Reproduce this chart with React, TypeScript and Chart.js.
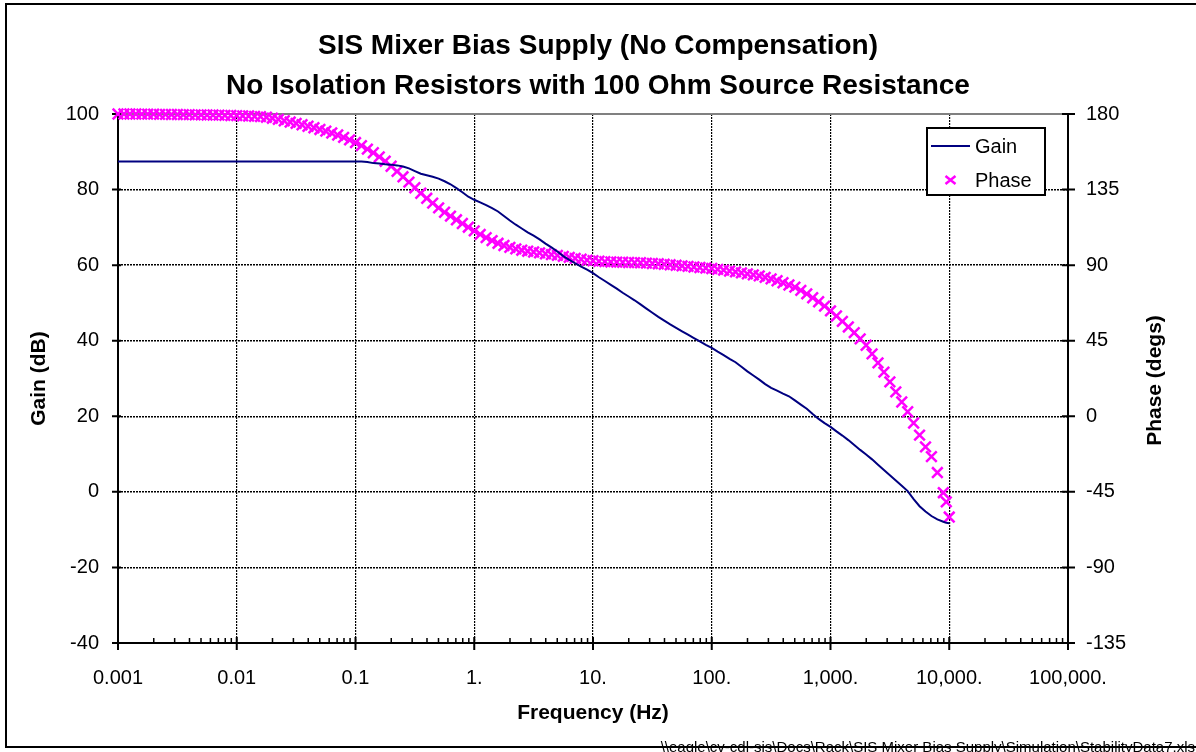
import React, { useEffect, useRef } from "react";
import { Chart, registerables } from "chart.js";

Chart.register(...registerables);

const FONT = "'Liberation Sans', Arial, Helvetica, sans-serif";

const titleLines = [
  "SIS Mixer Bias Supply (No Compensation)",
  "No Isolation Resistors with 100 Ohm Source Resistance",
];
const xTitle = "Frequency (Hz)";
const gainTitle = "Gain (dB)";
const phaseTitle = "Phase (degs)";
const filePath =
  "\\\\eagle\\cv-cdl-sis\\Docs\\Rack\\SIS Mixer Bias Supply\\Simulation\\StabilityData7.xls";

const xTickValues = [0.001, 0.01, 0.1, 1, 10, 100, 1000, 10000, 100000];
const xTickLabels = ["0.001", "0.01", "0.1", "1.", "10.", "100.", "1,000.", "10,000.", "100,000."];
const minorMantissas = [2, 3, 4, 5, 6, 7, 8, 9];
const gainTicks = [-40, -20, 0, 20, 40, 60, 80, 100];
const phaseTicks = [-135, -90, -45, 0, 45, 90, 135, 180];

// sampling grid of the simulation (20 points per decade)
const mantissas = [1, 1.122, 1.259, 1.413, 1.585, 1.778, 1.995, 2.239, 2.512, 2.818,
  3.162, 3.548, 3.981, 4.467, 5.012, 5.623, 6.31, 7.079, 7.943, 8.913];
const decades = [-3, -2, -1, 0, 1, 2, 3];
const tailFreq = [9440, 10000];

// Gain (dB), one row per decade
const gainValues = [
  87.4, 87.4, 87.4, 87.4, 87.4, 87.4, 87.4, 87.4, 87.4, 87.4, 87.4, 87.4, 87.4, 87.4, 87.4, 87.4, 87.4, 87.4, 87.4, 87.4,
  87.4, 87.4, 87.4, 87.4, 87.4, 87.4, 87.4, 87.4, 87.4, 87.4, 87.4, 87.4, 87.4, 87.4, 87.4, 87.4, 87.4, 87.4, 87.4, 87.4,
  87.4, 87.4, 87.3, 87.0, 86.9, 86.7, 86.6, 86.4, 86.1, 85.6, 84.9, 84.2, 83.8, 83.4, 82.9, 82.2, 81.4, 80.4, 79.3, 78.1,
  77.3, 76.6, 75.9, 75.1, 74.2, 73.0, 71.8, 70.7, 69.7, 68.7, 67.8, 66.8, 65.7, 64.7, 63.6, 62.4, 61.4, 60.5, 59.6, 58.8,
  57.9, 56.8, 55.8, 54.8, 53.8, 52.7, 51.7, 50.7, 49.6, 48.5, 47.4, 46.3, 45.3, 44.3, 43.4, 42.5, 41.6, 40.7, 39.8, 38.9,
  38.1, 37.1, 36.2, 35.2, 34.3, 33.1, 31.9, 30.8, 29.7, 28.5, 27.5, 26.8, 26.0, 25.3, 24.2, 23.1, 22.0, 20.6, 19.3, 18.2,
  17.2, 16.0, 14.9, 13.7, 12.4, 11.1, 9.9, 8.6, 7.2, 5.8, 4.4, 3.0, 1.6, 0.2, -1.9, -3.8, -5.2, -6.4, -7.3, -7.9,
];
const tailGain = [-8.2, -8.3];

// Phase (degs), one row per decade
const phaseValues = [
  180, 180, 180, 180, 179.9, 179.9, 179.9, 179.8, 179.8, 179.7, 179.7, 179.6, 179.6, 179.5, 179.5, 179.4, 179.4, 179.3, 179.2, 179.1,
  179.0, 178.9, 178.8, 178.6, 178.4, 178.1, 177.5, 176.8, 176.0, 175.2, 174.4, 173.6, 172.7, 171.8, 170.8, 169.8, 168.7, 167.5, 166.1, 164.6,
  163.0, 161.2, 159.1, 156.9, 154.5, 151.9, 148.9, 145.8, 142.6, 139.4, 136.1, 132.8, 129.8, 126.9, 124.1, 121.5, 119.2, 117.0, 114.8, 112.6,
  110.4, 108.3, 106.4, 104.6, 103.0, 101.7, 100.6, 99.7, 98.9, 98.3, 97.8, 97.3, 96.8, 96.3, 95.8, 95.2, 94.6, 94.0, 93.5, 93.0,
  92.6, 92.3, 92.1, 91.9, 91.8, 91.7, 91.6, 91.5, 91.4, 91.2, 91.0, 90.8, 90.5, 90.2, 89.9, 89.6, 89.3, 88.9, 88.6, 88.3,
  88.0, 87.5, 87.0, 86.5, 86.0, 85.4, 84.8, 84.2, 83.6, 82.7, 81.8, 80.7, 79.5, 78.2, 76.9, 75.0, 72.9, 70.6, 68.2, 65.6,
  62.8, 59.7, 56.5, 53.2, 49.8, 46.1, 42.3, 37.2, 31.8, 26.3, 20.5, 14.5, 8.5, 2.7, -4.0, -11.2, -18.2, -24.0, -33.5, -45.5,
];
const tailPhase = [-51, -60];

const GAIN_COLOR = "#000080";
const PHASE_COLOR = "#FF00FF";

const decorPlugin = {
  id: "decor",
  beforeDatasetsDraw(chart: any) {
    const { ctx, chartArea: a, scales } = chart;
    const xs = scales.x, ys = scales.y, y1s = scales.y1;
    ctx.save();
    // top border (gray)
    ctx.strokeStyle = "#808080";
    ctx.lineWidth = 2;
    ctx.beginPath();
    ctx.moveTo(a.left, a.top);
    ctx.lineTo(a.right, a.top);
    ctx.stroke();
    // axes
    ctx.strokeStyle = "#000";
    ctx.lineWidth = 2;
    ctx.beginPath();
    ctx.moveTo(a.left, a.top - 1);
    ctx.lineTo(a.left, a.bottom + 1);
    ctx.moveTo(a.right, a.top - 1);
    ctx.lineTo(a.right, a.bottom + 1);
    ctx.moveTo(a.left - 1, a.bottom);
    ctx.lineTo(a.right + 1, a.bottom);
    ctx.stroke();
    // major ticks
    ctx.beginPath();
    gainTicks.forEach((v) => {
      const p = ys.getPixelForValue(v);
      ctx.moveTo(a.left - 6, p);
      ctx.lineTo(a.left + 3, p);
    });
    phaseTicks.forEach((v) => {
      const p = y1s.getPixelForValue(v);
      ctx.moveTo(a.right - 6, p);
      ctx.lineTo(a.right + 7, p);
    });
    xTickValues.forEach((v) => {
      const p = xs.getPixelForValue(v);
      ctx.moveTo(p, a.bottom - 6);
      ctx.lineTo(p, a.bottom + 7);
    });
    ctx.stroke();
    // minor ticks (inside)
    ctx.lineWidth = 1.5;
    ctx.beginPath();
    xTickValues.slice(0, -1).forEach((v) => {
      minorMantissas.forEach((m) => {
        const p = xs.getPixelForValue(v * m);
        ctx.moveTo(p, a.bottom - 5);
        ctx.lineTo(p, a.bottom);
      });
    });
    ctx.stroke();
    ctx.restore();
  },
  afterDraw(chart: any) {
    const { ctx, chartArea: a } = chart;
    ctx.save();
    // right axis title (reads bottom to top)
    ctx.fillStyle = "#000";
    ctx.font = `bold 21px ${FONT}`;
    ctx.textAlign = "center";
    ctx.textBaseline = "middle";
    ctx.translate(1155, (a.top + a.bottom) / 2 + 2);
    ctx.rotate(-Math.PI / 2);
    ctx.fillText(phaseTitle, 0, 0);
    ctx.restore();

    // legend
    ctx.save();
    const lx = 927, ly = 128, lw = 118, lh = 67;
    ctx.fillStyle = "#fff";
    ctx.fillRect(lx, ly, lw, lh);
    ctx.strokeStyle = "#000";
    ctx.lineWidth = 2;
    ctx.strokeRect(lx, ly, lw, lh);
    ctx.strokeStyle = GAIN_COLOR;
    ctx.lineWidth = 2;
    ctx.beginPath();
    ctx.moveTo(931, 146);
    ctx.lineTo(970, 146);
    ctx.stroke();
    ctx.strokeStyle = PHASE_COLOR;
    ctx.lineWidth = 2.5;
    ctx.beginPath();
    ctx.moveTo(945.5, 176);
    ctx.lineTo(955.5, 184);
    ctx.moveTo(955.5, 176);
    ctx.lineTo(945.5, 184);
    ctx.stroke();
    ctx.fillStyle = "#000";
    ctx.font = `20px ${FONT}`;
    ctx.textAlign = "left";
    ctx.textBaseline = "middle";
    ctx.fillText("Gain", 975, 147);
    ctx.fillText("Phase", 975, 181);
    ctx.restore();

    // outer frame
    ctx.save();
    ctx.strokeStyle = "#000";
    ctx.lineWidth = 2;
    ctx.strokeRect(6, 4, 1300, 743);
    // file path
    ctx.fillStyle = "#000";
    ctx.font = `15px ${FONT}`;
    ctx.textAlign = "right";
    ctx.textBaseline = "alphabetic";
    ctx.fillText(filePath, 1195, 752);
    ctx.restore();
  },
};

export default function App() {
  const canvasRef = useRef<HTMLCanvasElement | null>(null);

  useEffect(() => {
    if (!canvasRef.current) return;
    const freq = decades
      .flatMap((d) => mantissas.map((m) => +(m * Math.pow(10, d)).toPrecision(4)))
      .concat(tailFreq);
    const gainAll = gainValues.concat(tailGain);
    const phaseAll = phaseValues.concat(tailPhase);

    const chart = new Chart(canvasRef.current, {
      type: "scatter",
      data: {
        datasets: [
          {
            label: "Gain",
            data: freq.map((f, i) => ({ x: f, y: gainAll[i] })),
            showLine: true,
            borderColor: GAIN_COLOR,
            backgroundColor: GAIN_COLOR,
            borderWidth: 2,
            pointRadius: 0,
            yAxisID: "y",
          },
          {
            label: "Phase",
            data: freq.map((f, i) => ({ x: f, y: phaseAll[i] })),
            showLine: false,
            pointStyle: "crossRot",
            pointRadius: 7.5,
            pointBorderWidth: 2.5,
            borderColor: PHASE_COLOR,
            pointBorderColor: PHASE_COLOR,
            backgroundColor: PHASE_COLOR,
            yAxisID: "y1",
            clip: false,
          },
        ],
      } as any,
      options: {
        animation: false,
        responsive: false,
        maintainAspectRatio: false,
        events: [],
        layout: { padding: 0 },
        plugins: {
          legend: { display: false },
          tooltip: { enabled: false },
          title: {
            display: true,
            text: titleLines,
            color: "#000",
            font: { family: FONT, size: 28, weight: "bold", lineHeight: 40 / 28 },
            padding: { top: 26, bottom: 8 },
          },
        },
        scales: {
          x: {
            type: "logarithmic",
            min: 0.001,
            max: 100000,
            afterBuildTicks: (s: any) => {
              s.ticks = xTickValues.map((v) => ({ value: v }));
            },
            afterFit: (s: any) => {
              s.height = 109;
            },
            ticks: {
              autoSkip: false,
              maxRotation: 0,
              padding: 23,
              color: "#000",
              font: { family: FONT, size: 20 },
              callback: (v: any) => {
                const i = xTickValues.indexOf(Number(v));
                return i >= 0 ? xTickLabels[i] : "";
              },
            },
            grid: {
              drawTicks: false,
              tickLength: 0,
              lineWidth: 1.2,
              color: (c: any) =>
                c.tick && (c.tick.value === 0.001 || c.tick.value === 100000) ? "rgba(0,0,0,0)" : "#000",
            },
            border: { display: false, dash: [2, 1] },
            title: {
              display: true,
              text: xTitle,
              color: "#000",
              font: { family: FONT, size: 21, weight: "bold" },
              padding: { top: 0, bottom: 26 },
            },
          },
          y: {
            type: "linear",
            position: "left",
            min: -40,
            max: 100,
            afterFit: (s: any) => {
              s.width = 118;
            },
            ticks: {
              stepSize: 20,
              padding: 19,
              color: "#000",
              font: { family: FONT, size: 20 },
            },
            grid: {
              drawTicks: false,
              tickLength: 0,
              lineWidth: 1.5,
              color: (c: any) =>
                c.tick && (c.tick.value === 100 || c.tick.value === -40) ? "rgba(0,0,0,0)" : "#000",
            },
            border: { display: false, dash: [2, 1] },
            title: {
              display: true,
              text: gainTitle,
              color: "#000",
              font: { family: FONT, size: 21, weight: "bold" },
              padding: { top: 27, bottom: 0 },
            },
          },
          y1: {
            type: "linear",
            position: "right",
            min: -135,
            max: 180,
            afterFit: (s: any) => {
              s.width = 128;
            },
            ticks: {
              stepSize: 45,
              padding: 18,
              color: "#000",
              font: { family: FONT, size: 20 },
            },
            grid: { drawOnChartArea: false, drawTicks: false, tickLength: 0 },
            border: { display: false },
          },
        },
      } as any,
      plugins: [decorPlugin],
    });
    return () => chart.destroy();
  }, []);

  return (
    <div style={{ position: "absolute", left: 0, top: 0, width: 1196, height: 752, background: "#fff" }}>
      <canvas ref={canvasRef} width={1196} height={752} style={{ display: "block" }} />
    </div>
  );
}
